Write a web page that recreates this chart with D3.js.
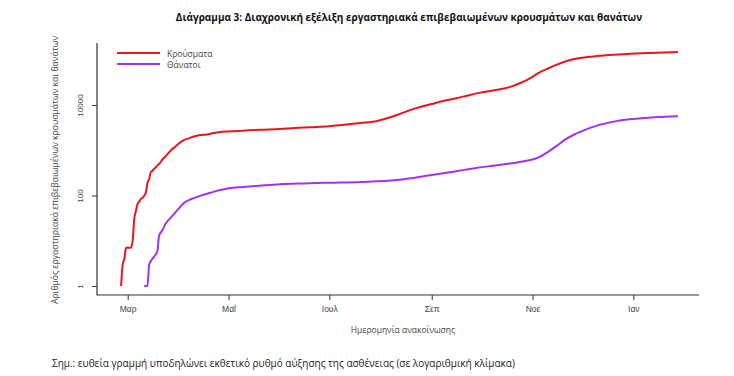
<!DOCTYPE html>
<html>
<head>
<meta charset="utf-8">
<script src="https://cdn.jsdelivr.net/npm/d3@7"></script>
<style>
  body { margin: 0; background: #fff; }
  svg { font-family: "Open Sans", "Noto Sans", sans-serif; }
</style>
</head>
<body>
<div id="chart"></div>
<script>
// Cumulative lab-confirmed cases
const caseDates = [
  "2020-02-26","2020-02-27","2020-02-28","2020-02-29","2020-03-03","2020-03-04","2020-03-05",
  "2020-03-06","2020-03-07","2020-03-08","2020-03-09","2020-03-10","2020-03-11","2020-03-12",
  "2020-03-13","2020-03-14","2020-03-15","2020-03-16","2020-03-17","2020-03-18","2020-03-19",
  "2020-03-20","2020-03-22","2020-03-24","2020-03-26","2020-03-28","2020-03-30","2020-04-01",
  "2020-04-04","2020-04-07","2020-04-10","2020-04-14","2020-04-18","2020-04-22","2020-04-26",
  "2020-05-01","2020-05-10","2020-05-20","2020-06-01","2020-06-10","2020-06-20","2020-07-01",
  "2020-07-10","2020-07-20","2020-07-30","2020-08-05","2020-08-11","2020-08-18","2020-08-25",
  "2020-09-01","2020-09-10","2020-09-20","2020-10-01","2020-10-10","2020-10-19","2020-10-25",
  "2020-10-31","2020-11-05","2020-11-10","2020-11-15","2020-11-20","2020-11-25","2020-12-01",
  "2020-12-10","2020-12-20","2020-12-30","2021-01-10","2021-01-20","2021-01-28"
];
const caseValues = [
  1, 3, 4, 7, 7, 10, 31,
  46, 66, 73, 84, 89, 99, 117,
  190, 228, 331, 352, 387, 418, 464,
  495, 624, 743, 892, 1061, 1212, 1415,
  1673, 1832, 2011, 2170, 2235, 2401, 2517,
  2600, 2710, 2840, 2950, 3090, 3230, 3400,
  3670, 4000, 4450, 5100, 6000, 7500, 9000,
  10500, 12700, 15300, 19000, 21500, 25500, 31000,
  40000, 52000, 63000, 76000, 89000, 101000, 111000,
  121000, 129000, 135000, 141000, 145000, 148000
];

// Cumulative deaths
const deathDates = [
  "2020-03-11","2020-03-13","2020-03-14","2020-03-16","2020-03-18","2020-03-19","2020-03-20",
  "2020-03-22","2020-03-24","2020-03-27","2020-03-30","2020-04-01","2020-04-04","2020-04-07",
  "2020-04-11","2020-04-15","2020-04-20","2020-04-26","2020-05-01","2020-05-10","2020-05-20",
  "2020-06-01","2020-06-15","2020-07-01","2020-07-20","2020-08-11","2020-08-31","2020-09-15",
  "2020-09-24","2020-10-05","2020-10-15","2020-10-25","2020-11-04","2020-11-10","2020-11-15",
  "2020-11-20","2020-11-26","2020-12-02","2020-12-10","2020-12-22","2021-01-01","2021-01-12",
  "2021-01-20","2021-01-28"
];
const deathValues = [
  1, 1, 3, 4, 5, 6, 13,
  17, 24, 32, 43, 52, 68, 79,
  90, 102, 115, 132, 145, 155, 165,
  177, 185, 192, 200, 220, 280, 340,
  385, 440, 490, 560, 680, 900, 1200,
  1650, 2200, 2750, 3500, 4400, 4900, 5300,
  5500, 5620
];

const monthTicks = ["2020-03-01","2020-05-01","2020-07-01","2020-09-01","2020-11-01","2021-01-01"];
const monthLabels = ["Μαρ","Μαΐ","Ιουλ","Σεπ","Νοε","Ιαν"];
const yTicks = [1, 100, 10000];
const seriesNames = ["Κρούσματα", "Θάνατοι"];
const seriesColors = ["#e5171d", "#a033ef"];

const width = 734, height = 376;
const parse = d3.timeParse("%Y-%m-%d");

const svg = d3.select("#chart").append("svg")
  .attr("width", width)
  .attr("height", height);

// scales tuned to the plot region of the reference
const x = d3.scaleTime()
  .domain([parse(monthTicks[0]), parse(monthTicks[monthTicks.length - 1])])
  .range([127.7, 633.3]);
const y = d3.scaleLog()
  .domain([1, 10000])
  .range([286, 105]);

const plotLeft = 97, plotRight = 699, plotTop = 43, plotBottom = 295;

// L-shaped frame
svg.append("path")
  .attr("d", `M${plotLeft},${plotTop}V${plotBottom}H${plotRight}`)
  .attr("fill", "none")
  .attr("stroke", "#333")
  .attr("stroke-width", 1.2);

// x axis
const xAxis = svg.append("g")
  .attr("transform", `translate(0,${plotBottom})`)
  .call(d3.axisBottom(x)
    .tickValues(monthTicks.map(parse))
    .tickFormat((d, i) => monthLabels[i])
    .tickSize(5)
    .tickPadding(6));
xAxis.select(".domain").remove();
xAxis.selectAll("line").attr("stroke", "#333");
xAxis.selectAll("text")
  .attr("fill", "#444")
  .style("font-size", "8.5px");

// y axis with rotated labels
const yAxis = svg.append("g")
  .attr("transform", `translate(${plotLeft},0)`)
  .call(d3.axisLeft(y)
    .tickValues(yTicks)
    .tickFormat(d3.format("d"))
    .tickSize(5));
yAxis.select(".domain").remove();
yAxis.selectAll("line").attr("stroke", "#333");
yAxis.selectAll("text")
  .attr("fill", "#444")
  .style("font-size", "8px")
  .attr("x", null)
  .attr("dy", null)
  .attr("transform", "translate(-17,0) rotate(-90)")
  .attr("text-anchor", "middle")
  .attr("dominant-baseline", "central");

// lines
const line = d3.line()
  .x(d => x(d.date))
  .y(d => y(d.value))
  .curve(d3.curveMonotoneX);

const caseData = caseDates.map((d, i) => ({date: parse(d), value: caseValues[i]}));
const deathData = deathDates.map((d, i) => ({date: parse(d), value: deathValues[i]}));

[caseData, deathData].forEach((data, i) => {
  svg.append("path")
    .datum(data)
    .attr("d", line)
    .attr("fill", "none")
    .attr("stroke", seriesColors[i])
    .attr("stroke-width", 2)
    .attr("stroke-linejoin", "round");
});

// legend
const legend = svg.append("g");
seriesNames.forEach((name, i) => {
  const ly = 53 + i * 11;
  legend.append("line")
    .attr("x1", 117).attr("x2", 160)
    .attr("y1", ly).attr("y2", ly)
    .attr("stroke", seriesColors[i])
    .attr("stroke-width", 2);
  legend.append("text")
    .attr("x", 167).attr("y", ly)
    .attr("dominant-baseline", "central")
    .attr("fill", "#444")
    .style("font-size", "8.5px")
    .text(name);
});

// titles
svg.append("text")
  .attr("x", 409).attr("y", 21)
  .attr("text-anchor", "middle")
  .style("font-size", "10px")
  .style("font-weight", "bold")
  .attr("fill", "#111")
  .text("Διάγραμμα 3: Διαχρονική εξέλιξη εργαστηριακά επιβεβαιωμένων κρουσμάτων και θανάτων");

svg.append("text")
  .attr("x", 403).attr("y", 333)
  .attr("text-anchor", "middle")
  .style("font-size", "8.5px")
  .attr("fill", "#444")
  .text("Ημερομηνία ανακοίνωσης");

svg.append("text")
  .attr("transform", "translate(58,170) rotate(-90)")
  .attr("text-anchor", "middle")
  .style("font-size", "8.6px")
  .attr("fill", "#444")
  .text("Αριθμός εργαστηριακά επιβεβαιωμένων κρουσμάτων και θανάτων");

svg.append("text")
  .attr("x", 52).attr("y", 367)
  .style("font-size", "10px")
  .attr("fill", "#222")
  .text("Σημ.: ευθεία γραμμή υποδηλώνει εκθετικό ρυθμό αύξησης της ασθένειας (σε λογαριθμική κλίμακα)");
</script>
</body>
</html>
